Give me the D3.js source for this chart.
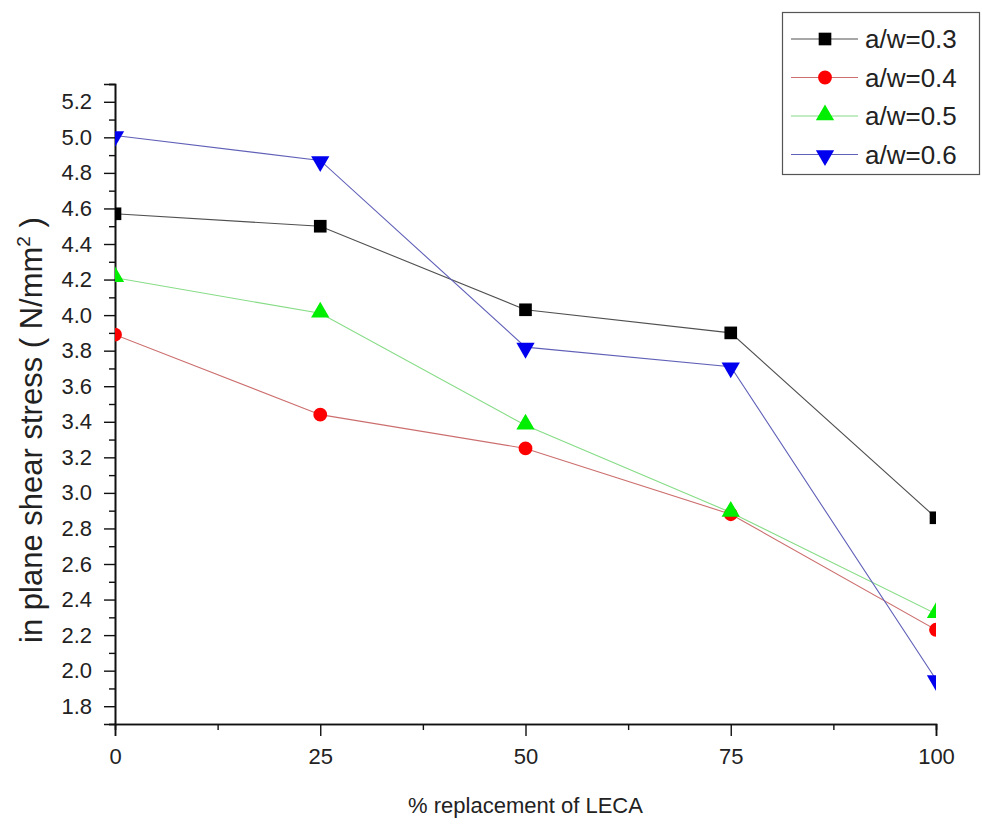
<!DOCTYPE html>
<html>
<head>
<meta charset="utf-8">
<script src="https://cdn.jsdelivr.net/npm/d3@7"></script>
<style>
  html, body { margin: 0; padding: 0; background: #fff; }
  svg { display: block; font-family: "Liberation Sans", Arial, sans-serif; }
</style>
</head>
<body>
<div id="chart"></div>
<script>
// ---- data ----
const categories = [0, 25, 50, 75, 100];
const seriesNames = ["a/w=0.3", "a/w=0.4", "a/w=0.5", "a/w=0.6"];
const aw03 = [4.57, 4.50, 4.03, 3.90, 2.86];
const aw04 = [3.89, 3.44, 3.25, 2.88, 2.23];
const aw05 = [4.21, 4.01, 3.38, 2.89, 2.32];
const aw06 = [5.01, 4.87, 3.82, 3.71, 1.95];
const xTicks = [0, 25, 50, 75, 100];
const xMinorTicks = [12.5, 37.5, 62.5, 87.5];
const yTicks = [1.8, 2.0, 2.2, 2.4, 2.6, 2.8, 3.0, 3.2, 3.4, 3.6, 3.8, 4.0, 4.2, 4.4, 4.6, 4.8, 5.0, 5.2];
const yMinorTicks = [1.7, 1.9, 2.1, 2.3, 2.5, 2.7, 2.9, 3.1, 3.3, 3.5, 3.7, 3.9, 4.1, 4.3, 4.5, 4.7, 4.9, 5.1, 5.3];
const xTitle = "% replacement of LECA";

const series = [
  { name: seriesNames[0], values: aw03, color: "#000000", line: "#505050", shape: "square" },
  { name: seriesNames[1], values: aw04, color: "#ff0000", line: "#cc6e6e", shape: "circle" },
  { name: seriesNames[2], values: aw05, color: "#00ee00", line: "#86dc86", shape: "up" },
  { name: seriesNames[3], values: aw06, color: "#0000ee", line: "#6060b8", shape: "down" }
];

// ---- layout ----
const W = 982, H = 826;
const pLeft = 115, pRight = 936, pTop = 84, pBottom = 724;

const svg = d3.select("#chart").append("svg").attr("width", W).attr("height", H);

const x = d3.scaleLinear().domain([0, 100]).range([pLeft, pRight]);
const y = d3.scaleLinear().domain([1.7, 5.3]).range([pBottom, pTop]);

svg.append("defs").append("clipPath").attr("id", "plotclip")
  .append("rect").attr("x", pLeft).attr("y", pTop - 20).attr("width", pRight - pLeft).attr("height", pBottom - pTop + 20);

// axes
const axisColor = "#111";
function styleAxis(g, fs) {
  g.selectAll(".domain").attr("stroke", axisColor).attr("stroke-width", 1.6);
  g.selectAll(".tick line").attr("stroke", axisColor).attr("stroke-width", 1.4);
  g.selectAll(".tick text").attr("font-size", fs).attr("fill", "#222")
    .attr("font-family", "'Liberation Sans', Arial, sans-serif");
}
const gx = svg.append("g").attr("transform", `translate(0,${pBottom})`)
  .call(d3.axisBottom(x).tickValues(xMinorTicks).tickSize(6).tickFormat(""));
const gx2 = svg.append("g").attr("transform", `translate(0,${pBottom})`)
  .call(d3.axisBottom(x).tickValues(xTicks).tickSize(12).tickPadding(12).tickFormat(d3.format("d")));
styleAxis(gx, 22); styleAxis(gx2, 22);

const gy = svg.append("g").attr("transform", `translate(${pLeft},0)`)
  .call(d3.axisLeft(y).tickValues(yMinorTicks).tickSize(6).tickFormat(""));
const gy2 = svg.append("g").attr("transform", `translate(${pLeft},0)`)
  .call(d3.axisLeft(y).tickValues(yTicks).tickSize(11).tickPadding(12).tickFormat(d3.format(".1f")));
styleAxis(gy, 22); styleAxis(gy2, 22);

// axis titles
svg.append("text").attr("x", (pLeft + pRight) / 2).attr("y", 813)
  .attr("text-anchor", "middle").attr("font-size", 22).attr("fill", "#222").text(xTitle);

const yt = svg.append("text")
  .attr("transform", `translate(42,430) rotate(-90)`)
  .attr("text-anchor", "middle").attr("font-size", 31).attr("fill", "#222");
yt.append("tspan").text("in plane shear stress ( N/mm");
yt.append("tspan").attr("dy", -12).attr("font-size", 19).text("2");
yt.append("tspan").attr("dy", 12).text(" )");

// symbols
function symbolPath(shape) {
  if (shape === "square") return d3.symbol().type(d3.symbolSquare).size(160)();
  if (shape === "circle") return d3.symbol().type(d3.symbolCircle).size(150)();
  return d3.symbol().type(d3.symbolTriangle).size(145)();
}
function symbolTransform(shape, px, py) {
  if (shape === "down") return `translate(${px},${py + 1}) rotate(180)`;
  if (shape === "up") return `translate(${px},${py - 1})`;
  return `translate(${px},${py})`;
}

const plot = svg.append("g").attr("clip-path", "url(#plotclip)");
const line = d3.line().x((d, i) => x(categories[i])).y(d => y(d));

series.forEach(s => {
  plot.append("path").datum(s.values)
    .attr("d", line).attr("fill", "none")
    .attr("stroke", s.line).attr("stroke-width", 1.1);
});
series.forEach(s => {
  plot.selectAll(null).data(s.values).enter().append("path")
    .attr("d", symbolPath(s.shape))
    .attr("transform", (d, i) => symbolTransform(s.shape, x(categories[i]), y(d)))
    .attr("fill", s.color);
});

// legend
const lg = svg.append("g");
lg.append("rect").attr("x", 782.5).attr("y", 12.5).attr("width", 197).attr("height", 162)
  .attr("fill", "#fff").attr("stroke", "#555").attr("stroke-width", 1.2);
series.forEach((s, i) => {
  const cy = 39 + i * 38.5;
  lg.append("line").attr("x1", 791).attr("x2", 858).attr("y1", cy).attr("y2", cy)
    .attr("stroke", s.line).attr("stroke-width", 1.1);
  lg.append("path").attr("d", symbolPath(s.shape))
    .attr("transform", symbolTransform(s.shape, 825, cy)).attr("fill", s.color);
  lg.append("text").attr("x", 865).attr("y", cy + 9).attr("font-size", 26)
    .attr("fill", "#222").text(s.name);
});
</script>
</body>
</html>
